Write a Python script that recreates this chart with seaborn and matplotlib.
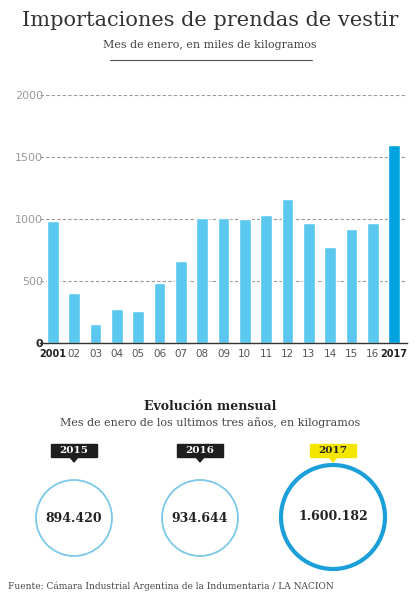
import matplotlib
matplotlib.use("Agg")
import matplotlib.pyplot as plt
import seaborn as sns
import pandas as pd
from matplotlib.patches import Circle, Rectangle, Polygon

years = ["2001","02","03","04","05","06","07","08","09","10","11","12","13","14","15","16","2017"]
values = [980,405,150,275,255,485,660,1005,1005,1000,1030,1165,970,775,920,970,1600]
yticks = [0,500,1000,1500,2000]
circle_years = ["2015","2016","2017"]
circle_values = ["894.420","934.644","1.600.182"]

sns.set_theme(style="white")
plt.rcParams['font.family'] = ['DejaVu Sans']
W, H = 420, 597
fig = plt.figure(figsize=(4.2, 5.97), dpi=100)

def fx(x): return x / W
def fy(y): return 1 - y / H

fig.text(fx(210), fy(20), "Importaciones de prendas de vestir", ha="center", va="center",
         fontsize=15, family="DejaVu Serif", color="#333333")
fig.text(fx(210), fy(45), "Mes de enero, en miles de kilogramos", ha="center", va="center",
         fontsize=8, family="DejaVu Serif", color="#444444")
fig.add_artist(plt.Line2D([fx(110), fx(312)], [fy(60), fy(60)], color="#555555", lw=0.8))

ax = fig.add_axes([fx(40), fy(343), fx(407) - fx(40), fy(95) - fy(343)])
df = pd.DataFrame({"year": years, "value": values})
colors = ["#5bc8f0"] * (len(years) - 1) + ["#00a3e0"]
sns.barplot(data=df, x="year", y="value", hue="year", palette=colors, legend=False,
            width=0.55, ax=ax, saturation=1)
ax.set_ylim(0, 2000)
ax.set_xlim(-0.6, len(years) - 0.4)
ax.set_yticks(yticks)
ax.set_yticklabels([str(t) for t in yticks], fontsize=8, color="#999999")
ax.tick_params(axis="y", pad=-2, length=0)
for t in yticks[1:]:
    ax.axhline(t, color="#999999", lw=0.8, ls=(0, (3, 2)), zorder=0)
ax.get_yticklabels()[0].set_color("#222222")
ax.get_yticklabels()[0].set_fontweight("bold")
ax.set_xlabel(""); ax.set_ylabel("")
ax.tick_params(axis="x", length=0, pad=4)
for i, lab in enumerate(ax.get_xticklabels()):
    if i in (0, len(years) - 1):
        lab.set_fontsize(7)
        lab.set_fontweight("bold"); lab.set_color("#222222")
    else:
        lab.set_fontsize(7.5)
        lab.set_color("#555555")
for s in ["top", "right", "left"]:
    ax.spines[s].set_visible(False)
ax.spines["bottom"].set_color("#333333")
ax.spines["bottom"].set_linewidth(1)

fig.text(fx(210), fy(406), "Evolución mensual", ha="center", va="center", fontsize=9,
         fontweight="bold", family="DejaVu Serif", color="#222222")
fig.text(fx(210), fy(423), "Mes de enero de los ultimos tres años, en kilogramos", ha="center",
         va="center", fontsize=8, family="DejaVu Serif", color="#444444")

ov = fig.add_axes([0, 0, 1, 1]); ov.set_xlim(0, W); ov.set_ylim(H, 0); ov.axis("off")
cx = [74, 200, 333]
rad = [38, 38, 52]
for i in range(3):
    last = i == 2
    cy = 518 if not last else 517
    ov.add_patch(Circle((cx[i], cy), rad[i], fill=False, ec="#1a9fd8" if last else "#7cc8e6",
                        lw=3 if last else 1.3))
    ov.text(cx[i], cy, circle_values[i], ha="center", va="center", fontsize=9, fontweight="bold",
            family="DejaVu Serif", color="#222222")
    bc = "#f5e600" if last else "#1e1e1e"
    ov.add_patch(Rectangle((cx[i] - 23, 444), 46, 13, color=bc))
    ov.add_patch(Polygon([[cx[i] - 4, 457], [cx[i] + 4, 457], [cx[i], 462]], color=bc))
    ov.text(cx[i], 450.5, circle_years[i], ha="center", va="center", fontsize=7.5, fontweight="bold",
            family="DejaVu Serif", color="#222222" if last else "white")

fig.text(fx(8), fy(586), "Fuente: Cámara Industrial Argentina de la Indumentaria / LA NACION",
         ha="left", va="center", fontsize=6.5, family="DejaVu Serif", color="#444444")

fig.savefig("out.png", dpi=100, facecolor="white")
